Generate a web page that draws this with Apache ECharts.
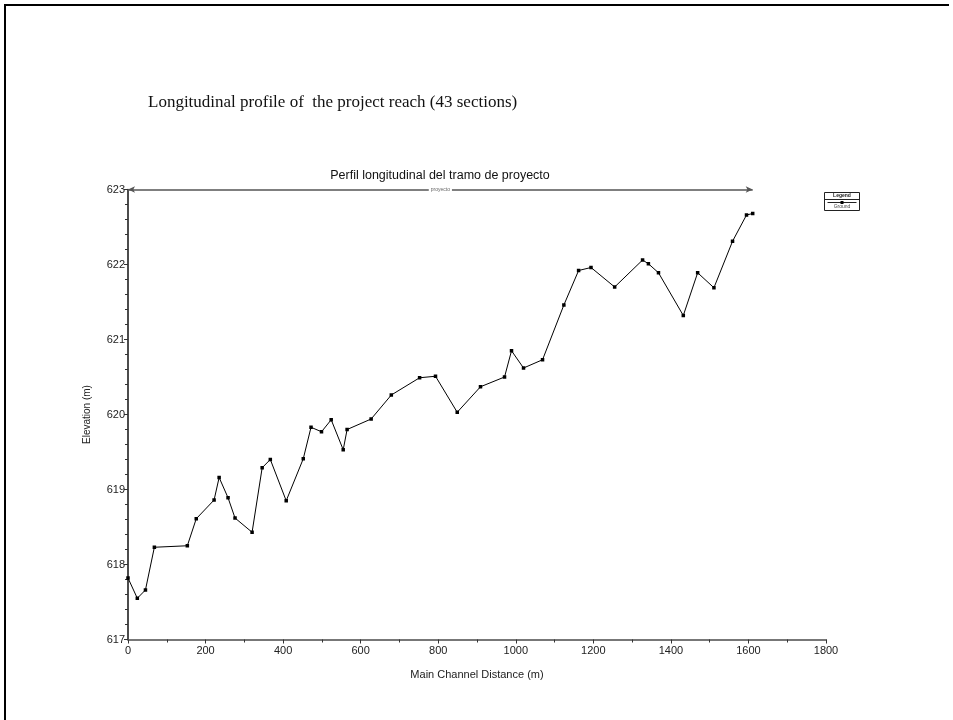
<!DOCTYPE html>
<html>
<head>
<meta charset="utf-8">
<script src="https://cdn.jsdelivr.net/npm/echarts@6/dist/echarts.min.js"></script>
<style>
  html, body { margin: 0; padding: 0; background: #fff; }
  #root { width: 953px; height: 720px; }
</style>
</head>
<body>
<div id="root"></div>
<script>
// Main channel distance of each section (m)
var distances = [0, 24, 45, 68, 153, 176, 222, 235, 258, 276, 320, 346, 367, 408, 452,
  472, 499, 524, 555, 565, 627, 679, 752, 793, 849, 909, 971, 989, 1020, 1069,
  1124, 1162, 1194, 1255, 1327, 1342, 1368, 1432, 1469, 1511, 1559, 1595, 1611];
// Ground elevation of each section (m)
var ground = [617.82, 617.55, 617.66, 618.23, 618.25, 618.61, 618.86, 619.16, 618.89, 618.62,
  618.43, 619.29, 619.40, 618.85, 619.41, 619.83, 619.77, 619.93, 619.53, 619.80,
  619.94, 620.26, 620.49, 620.51, 620.03, 620.37, 620.50, 620.85, 620.62, 620.73,
  621.46, 621.92, 621.96, 621.70, 622.06, 622.01, 621.89, 621.32, 621.89, 621.69,
  622.31, 622.66, 622.68];
// Reach marker (start / end distance) and its label
var reachStart = 0;
var reachEnd = 1611;
var reachName = "proyecto";

var chart = echarts.init(document.getElementById("root"), null, { renderer: "canvas" });

var points = distances.map(function (d, i) { return [d, ground[i]]; });

var axisText = { color: "#222", fontFamily: "Liberation Sans, Arial, sans-serif", fontSize: 11 };

var option = {
  backgroundColor: "#ffffff",
  animation: false,
  grid: { left: 128, right: 127, top: 189.5, bottom: 80.5 },
  xAxis: {
    type: "value",
    min: 0, max: 1800, interval: 200,
    name: "Main Channel Distance (m)",
    nameLocation: "middle",
    nameGap: 30,
    nameTextStyle: { color: "#222", fontFamily: "Liberation Sans Narrow, Liberation Sans, Arial", fontSize: 11 },
    axisLine: { lineStyle: { color: "#777", width: 2 } },
    axisTick: { length: 4, lineStyle: { color: "#333" } },
    minorTick: { show: true, splitNumber: 2, length: 3, lineStyle: { color: "#333" } },
    splitLine: { show: false },
    axisLabel: Object.assign({ margin: 6, formatter: function (v) { return String(v); } }, axisText)
  },
  yAxis: {
    type: "value",
    min: 617, max: 623, interval: 1,
    name: "Elevation (m)",
    nameLocation: "middle",
    nameGap: 36,
    nameTextStyle: { color: "#222", fontFamily: "Liberation Sans, Arial", fontSize: 10 },
    axisLine: { show: true, lineStyle: { color: "#111", width: 1.5 } },
    axisTick: { length: 4, lineStyle: { color: "#333" } },
    minorTick: { show: true, splitNumber: 5, length: 3, lineStyle: { color: "#333" } },
    splitLine: { show: false },
    axisLabel: Object.assign({ margin: 3 }, axisText)
  },
  series: [
    {
      name: "Ground",
      type: "line",
      data: points,
      symbol: "rect",
      symbolSize: 3.5,
      itemStyle: { color: "#000" },
      lineStyle: { color: "#000", width: 1 },
      markLine: {
        silent: true,
        symbol: ["arrow", "arrow"],
        symbolSize: [5, 7],
        lineStyle: { color: "#555", type: "solid", width: 1.5 },
        label: {
          show: true,
          position: "middle",
          formatter: reachName,
          fontSize: 5,
          color: "#666",
          backgroundColor: "#fff",
          padding: [0, 2],
          distance: -3
        },
        data: [[{ coord: [reachStart, 623] }, { coord: [reachEnd, 623] }]]
      }
    }
  ],
  graphic: [
    // page frame
    { type: "rect", shape: { x: 4, y: 4, width: 945, height: 2 }, style: { fill: "#000" } },
    { type: "rect", shape: { x: 4, y: 4, width: 2, height: 716 }, style: { fill: "#000" } },
    // document heading
    {
      type: "text", left: 148, top: 94,
      style: { text: "Longitudinal profile of  the project reach (43 sections)", font: "17px 'Liberation Serif', 'Times New Roman', serif", fill: "#111" }
    },
    // chart title
    {
      type: "text", x: 440, y: 169,
      style: { text: "Perfil longitudinal del tramo de proyecto", font: "12.5px 'Liberation Sans', Arial, sans-serif", fill: "#111", align: "center" }
    },
    // legend box
    {
      type: "group", left: 822, top: 192,
      children: [
        { type: "rect", shape: { x: 0, y: 0, width: 35, height: 18 }, style: { fill: "#fff", stroke: "#222", lineWidth: 1 } },
        { type: "line", shape: { x1: 0, y1: 7, x2: 35, y2: 7 }, style: { stroke: "#222", lineWidth: 1 } },
        { type: "text", x: 17.5, y: 1, style: { text: "Legend", font: "bold 5px 'Liberation Sans', Arial", fill: "#222", align: "center" } },
        { type: "line", shape: { x1: 3, y1: 10, x2: 32, y2: 10 }, style: { stroke: "#222", lineWidth: 1 } },
        { type: "rect", shape: { x: 16, y: 8.5, width: 3, height: 3 }, style: { fill: "#000" } },
        { type: "text", x: 17.5, y: 12, style: { text: "Ground", font: "5px 'Liberation Sans', Arial", fill: "#444", align: "center" } }
      ]
    }
  ]
};

chart.setOption(option);
</script>
</body>
</html>
